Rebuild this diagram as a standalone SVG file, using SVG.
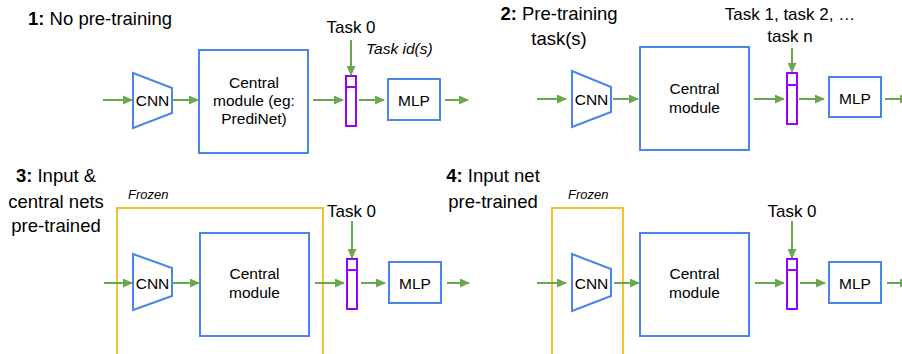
<svg xmlns="http://www.w3.org/2000/svg" width="902" height="354" viewBox="0 0 902 354">
<defs>
<marker id="ah" viewBox="0 0 10 9" refX="9" refY="4.5" markerWidth="10" markerHeight="9" markerUnits="userSpaceOnUse" orient="auto">
<path d="M0,0 L10,4.5 L0,9 z" fill="#6aa84f"/>
</marker>
<style>
text{font-family:"Liberation Sans",Arial,sans-serif;fill:#000}
.hd{font-size:18.5px}
.tk{font-size:17px;text-anchor:middle}
.nd{font-size:15.5px;text-anchor:middle}
.it{font-style:italic}
.box{fill:#fff;stroke:#4a86e8;stroke-width:2}
.vec{fill:#fff;stroke:#9900ff;stroke-width:2}
.frz{fill:none;stroke:#f1c232;stroke-width:2}
.ar{stroke:#6aa84f;stroke-width:2;fill:none;marker-end:url(#ah)}
</style>
</defs>
<rect width="902" height="354" fill="#fff"/>

<!-- Panel labels -->
<g id="labels">
<text class="hd" x="28" y="25"><tspan font-weight="bold">1:</tspan> No pre-training</text>
<text class="hd" x="559" y="20" text-anchor="middle"><tspan font-weight="bold">2:</tspan> Pre-training</text>
<text class="hd" x="559" y="45" text-anchor="middle">task(s)</text>
<text class="hd" x="56" y="182" text-anchor="middle"><tspan font-weight="bold">3:</tspan> Input &amp;</text>
<text class="hd" x="56" y="208" text-anchor="middle">central nets</text>
<text class="hd" x="56" y="232" text-anchor="middle">pre-trained</text>
<text class="hd" x="493" y="182" text-anchor="middle"><tspan font-weight="bold">4:</tspan> Input net</text>
<text class="hd" x="493" y="208" text-anchor="middle">pre-trained</text>
<text class="tk" x="351" y="33">Task 0</text>
<text class="it" x="366" y="54" font-size="15.5">Task id(s)</text>
<text class="tk" x="790" y="20">Task 1, task 2, …</text>
<text class="tk" x="790" y="42">task n</text>
<text class="tk" x="351.5" y="217">Task 0</text>
<text class="tk" x="792" y="217">Task 0</text>
</g>

<!-- Frozen regions -->
<g id="frozen3">
<rect class="frz" x="117" y="208" width="206" height="160"/>
<text class="it" x="128" y="199" font-size="13">Frozen</text>
</g>
<g id="frozen4">
<rect class="frz" x="552" y="208" width="71" height="160"/>
<text class="it" x="568" y="199" font-size="13">Frozen</text>
</g>

<!-- Panel 1 -->
<g id="p1-cnn"><polygon class="box" points="133,73 172,88 172,113 133,128"/><text class="nd" x="152.5" y="106">CNN</text></g>
<g id="p1-central"><rect class="box" x="199" y="50" width="109" height="103"/>
<text class="nd" x="254" y="88">Central</text><text class="nd" x="254" y="106">module (eg:</text><text class="nd" x="254" y="124">PrediNet)</text></g>
<g id="p1-task"><rect class="vec" x="346" y="76" width="10" height="50"/><line x1="346" y1="87" x2="356" y2="87" stroke="#9900ff" stroke-width="2"/></g>
<g id="p1-mlp"><rect class="box" x="388" y="79" width="52" height="41"/><text class="nd" x="414" y="106">MLP</text></g>

<!-- Panel 2 -->
<g id="p2-cnn"><polygon class="box" points="572,71 611,87 611,112 572,127"/><text class="nd" x="591.5" y="105">CNN</text></g>
<g id="p2-central"><rect class="box" x="640" y="47" width="109" height="103"/>
<text class="nd" x="694.5" y="94">Central</text><text class="nd" x="694.5" y="113">module</text></g>
<g id="p2-task"><rect class="vec" x="787" y="73" width="10" height="51"/><line x1="787" y1="85" x2="797" y2="85" stroke="#9900ff" stroke-width="2"/></g>
<g id="p2-mlp"><rect class="box" x="829" y="77" width="52" height="40"/><text class="nd" x="855" y="104">MLP</text></g>

<!-- Panel 3 -->
<g id="p3-cnn"><polygon class="box" points="133,254 172,268 172,296 133,310"/><text class="nd" x="152.5" y="289">CNN</text></g>
<g id="p3-central"><rect class="box" x="200" y="233" width="109" height="103"/>
<text class="nd" x="254.5" y="279">Central</text><text class="nd" x="254.5" y="298">module</text></g>
<g id="p3-task"><rect class="vec" x="347" y="259" width="10" height="50"/><line x1="347" y1="270" x2="357" y2="270" stroke="#9900ff" stroke-width="2"/></g>
<g id="p3-mlp"><rect class="box" x="389" y="262" width="52" height="41"/><text class="nd" x="415" y="289">MLP</text></g>

<!-- Panel 4 -->
<g id="p4-cnn"><polygon class="box" points="572,254 611,269 611,296 572,311"/><text class="nd" x="591.5" y="289">CNN</text></g>
<g id="p4-central"><rect class="box" x="640" y="233" width="109" height="103"/>
<text class="nd" x="694.5" y="279">Central</text><text class="nd" x="694.5" y="298">module</text></g>
<g id="p4-task"><rect class="vec" x="787" y="259" width="10" height="50"/><line x1="787" y1="270" x2="797" y2="270" stroke="#9900ff" stroke-width="2"/></g>
<g id="p4-mlp"><rect class="box" x="829" y="262" width="52" height="41"/><text class="nd" x="855" y="289">MLP</text></g>

<!-- Connectors -->
<g id="connectors">
<line class="ar" x1="103" y1="100" x2="132" y2="100"/>
<line class="ar" x1="173" y1="100" x2="198" y2="100"/>
<line class="ar" x1="313" y1="100" x2="343" y2="100"/>
<line class="ar" x1="351" y1="40" x2="351" y2="75"/>
<line class="ar" x1="359" y1="100" x2="384" y2="100"/>
<line class="ar" x1="445" y1="100" x2="468" y2="100"/>

<line class="ar" x1="537" y1="99" x2="566" y2="99"/>
<line class="ar" x1="613" y1="99" x2="638" y2="99"/>
<line class="ar" x1="754" y1="99" x2="784" y2="99"/>
<line class="ar" x1="792" y1="48" x2="792" y2="72"/>
<line class="ar" x1="799" y1="99" x2="824" y2="99"/>
<line class="ar" x1="885" y1="99" x2="909" y2="99"/>

<line class="ar" x1="104" y1="283" x2="132" y2="283"/>
<line class="ar" x1="173" y1="283" x2="199" y2="283"/>
<line class="ar" x1="315" y1="283" x2="344" y2="283"/>
<line class="ar" x1="352" y1="221" x2="352" y2="258"/>
<line class="ar" x1="361" y1="283" x2="385" y2="283"/>
<line class="ar" x1="447" y1="283" x2="469" y2="283"/>

<line class="ar" x1="537" y1="283" x2="566" y2="283"/>
<line class="ar" x1="614" y1="283" x2="639" y2="283"/>
<line class="ar" x1="755" y1="283" x2="784" y2="283"/>
<line class="ar" x1="792" y1="221" x2="792" y2="258"/>
<line class="ar" x1="800" y1="283" x2="825" y2="283"/>
<line class="ar" x1="887" y1="283" x2="909" y2="283"/>
</g>
</svg>
